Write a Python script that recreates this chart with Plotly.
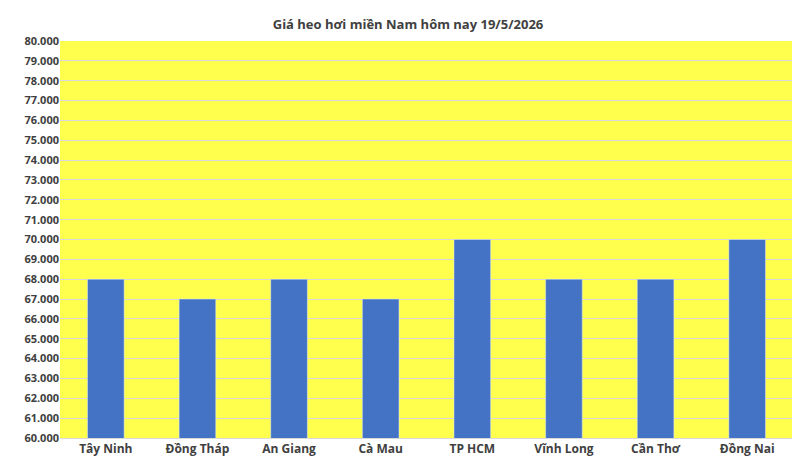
import plotly.graph_objects as go

categories = ["Tây Ninh", "Đồng Tháp", "An Giang", "Cà Mau", "TP HCM", "Vĩnh Long", "Cần Thơ", "Đồng Nai"]
prices = [68000, 67000, 68000, 67000, 70000, 68000, 68000, 70000]
tick_vals = list(range(60000, 80001, 1000))
tick_text = [f"<b>{v//1000}.000</b>" for v in tick_vals]
cat_text = [f"<b>{c}</b>" for c in categories]

fig = go.Figure(go.Bar(x=categories, y=prices, marker_color="#4472C4", width=0.4))
fig.update_layout(
    width=800, height=462,
    paper_bgcolor="white", plot_bgcolor="#FFFF4D",
    margin=dict(l=52, r=15, t=33, b=32, autoexpand=False),
    title=dict(text="<b>Giá heo hơi miền Nam hôm nay 19/5/2026</b>", x=0.5, y=0.975, xanchor="center",
               font=dict(family="Open Sans", size=13, color="#404040")),
    font=dict(family="Open Sans", size=12, color="#404040"),
    showlegend=False, bargap=0.6,
)
fig.update_yaxes(range=[60000, 80000], tickvals=tick_vals, ticktext=tick_text, automargin=False,
                 gridcolor="#D9D9D9", showline=False, zeroline=False, ticks="",
                 tickfont=dict(size=11))
fig.update_xaxes(showline=True, linecolor="#D9D9D9", ticks="", automargin=False,
                 tickvals=categories, ticktext=cat_text, tickfont=dict(size=12))
fig.write_html("out.html")
